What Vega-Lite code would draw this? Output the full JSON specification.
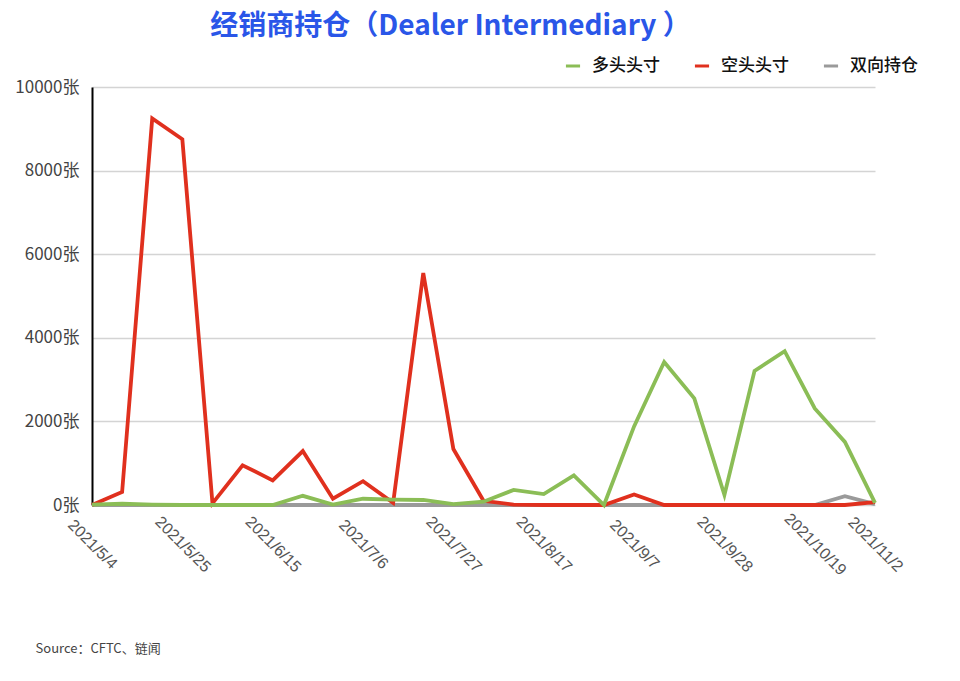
{
  "$schema": "https://vega.github.io/schema/vega-lite/v6.json",
  "autosize": "none",
  "width": 783,
  "height": 418,
  "padding": {"left": 92, "top": 87, "right": 85, "bottom": 176},
  "background": "white",
  "title": {
    "text": "经销商持仓（Dealer Intermediary ）",
    "font": "Noto Sans CJK SC",
    "fontSize": 28,
    "fontWeight": "bold",
    "color": "#2a56e8",
    "anchor": "middle",
    "frame": "group",
    "dx": -33,
    "offset": 16
  },
  "config": {
    "view": {"stroke": null},
    "font": "Noto Sans CJK SC"
  },
  "datasets": {
    "pos": [
      {"date": "2021/5/4", "s": "双向持仓", "v": 0},
      {"date": "2021/5/11", "s": "双向持仓", "v": 0},
      {"date": "2021/5/18", "s": "双向持仓", "v": 0},
      {"date": "2021/5/25", "s": "双向持仓", "v": 0},
      {"date": "2021/6/1", "s": "双向持仓", "v": 0},
      {"date": "2021/6/8", "s": "双向持仓", "v": 0},
      {"date": "2021/6/15", "s": "双向持仓", "v": 0},
      {"date": "2021/6/22", "s": "双向持仓", "v": 0},
      {"date": "2021/6/29", "s": "双向持仓", "v": 0},
      {"date": "2021/7/6", "s": "双向持仓", "v": 0},
      {"date": "2021/7/13", "s": "双向持仓", "v": 0},
      {"date": "2021/7/20", "s": "双向持仓", "v": 0},
      {"date": "2021/7/27", "s": "双向持仓", "v": 0},
      {"date": "2021/8/3", "s": "双向持仓", "v": 0},
      {"date": "2021/8/10", "s": "双向持仓", "v": 0},
      {"date": "2021/8/17", "s": "双向持仓", "v": 0},
      {"date": "2021/8/24", "s": "双向持仓", "v": 0},
      {"date": "2021/8/31", "s": "双向持仓", "v": 0},
      {"date": "2021/9/7", "s": "双向持仓", "v": 0},
      {"date": "2021/9/14", "s": "双向持仓", "v": 0},
      {"date": "2021/9/21", "s": "双向持仓", "v": 0},
      {"date": "2021/9/28", "s": "双向持仓", "v": 0},
      {"date": "2021/10/5", "s": "双向持仓", "v": 0},
      {"date": "2021/10/12", "s": "双向持仓", "v": 0},
      {"date": "2021/10/19", "s": "双向持仓", "v": 0},
      {"date": "2021/10/26", "s": "双向持仓", "v": 210},
      {"date": "2021/11/2", "s": "双向持仓", "v": 20},
      {"date": "2021/5/4", "s": "空头头寸", "v": 0},
      {"date": "2021/5/11", "s": "空头头寸", "v": 310},
      {"date": "2021/5/18", "s": "空头头寸", "v": 9250},
      {"date": "2021/5/25", "s": "空头头寸", "v": 8750},
      {"date": "2021/6/1", "s": "空头头寸", "v": 40},
      {"date": "2021/6/8", "s": "空头头寸", "v": 950},
      {"date": "2021/6/15", "s": "空头头寸", "v": 590},
      {"date": "2021/6/22", "s": "空头头寸", "v": 1290},
      {"date": "2021/6/29", "s": "空头头寸", "v": 150},
      {"date": "2021/7/6", "s": "空头头寸", "v": 570},
      {"date": "2021/7/13", "s": "空头头寸", "v": 50},
      {"date": "2021/7/20", "s": "空头头寸", "v": 5550},
      {"date": "2021/7/27", "s": "空头头寸", "v": 1340},
      {"date": "2021/8/3", "s": "空头头寸", "v": 100},
      {"date": "2021/8/10", "s": "空头头寸", "v": 10},
      {"date": "2021/8/17", "s": "空头头寸", "v": 0},
      {"date": "2021/8/24", "s": "空头头寸", "v": 0},
      {"date": "2021/8/31", "s": "空头头寸", "v": 0},
      {"date": "2021/9/7", "s": "空头头寸", "v": 250},
      {"date": "2021/9/14", "s": "空头头寸", "v": 0},
      {"date": "2021/9/21", "s": "空头头寸", "v": 0},
      {"date": "2021/9/28", "s": "空头头寸", "v": 0},
      {"date": "2021/10/5", "s": "空头头寸", "v": 0},
      {"date": "2021/10/12", "s": "空头头寸", "v": 0},
      {"date": "2021/10/19", "s": "空头头寸", "v": 0},
      {"date": "2021/10/26", "s": "空头头寸", "v": 0},
      {"date": "2021/11/2", "s": "空头头寸", "v": 70},
      {"date": "2021/5/4", "s": "多头头寸", "v": 10},
      {"date": "2021/5/11", "s": "多头头寸", "v": 30},
      {"date": "2021/5/18", "s": "多头头寸", "v": 10},
      {"date": "2021/5/25", "s": "多头头寸", "v": 0},
      {"date": "2021/6/1", "s": "多头头寸", "v": 0},
      {"date": "2021/6/8", "s": "多头头寸", "v": 0},
      {"date": "2021/6/15", "s": "多头头寸", "v": 0},
      {"date": "2021/6/22", "s": "多头头寸", "v": 220},
      {"date": "2021/6/29", "s": "多头头寸", "v": 10},
      {"date": "2021/7/6", "s": "多头头寸", "v": 150},
      {"date": "2021/7/13", "s": "多头头寸", "v": 130},
      {"date": "2021/7/20", "s": "多头头寸", "v": 120},
      {"date": "2021/7/27", "s": "多头头寸", "v": 20},
      {"date": "2021/8/3", "s": "多头头寸", "v": 80},
      {"date": "2021/8/10", "s": "多头头寸", "v": 360},
      {"date": "2021/8/17", "s": "多头头寸", "v": 260},
      {"date": "2021/8/24", "s": "多头头寸", "v": 710},
      {"date": "2021/8/31", "s": "多头头寸", "v": 0},
      {"date": "2021/9/7", "s": "多头头寸", "v": 1880},
      {"date": "2021/9/14", "s": "多头头寸", "v": 3420},
      {"date": "2021/9/21", "s": "多头头寸", "v": 2550},
      {"date": "2021/9/28", "s": "多头头寸", "v": 240},
      {"date": "2021/10/5", "s": "多头头寸", "v": 3210},
      {"date": "2021/10/12", "s": "多头头寸", "v": 3680},
      {"date": "2021/10/19", "s": "多头头寸", "v": 2310},
      {"date": "2021/10/26", "s": "多头头寸", "v": 1510},
      {"date": "2021/11/2", "s": "多头头寸", "v": 50}
    ]
  },
  "data": {"name": "pos"},
  "mark": {"type": "line", "strokeWidth": 3.8, "strokeJoin": "miter", "clip": false},
  "encoding": {
    "x": {
      "field": "date",
      "type": "ordinal",
      "sort": null,
      "scale": {"type": "point", "padding": 0},
      "axis": {
        "values": ["2021/5/4", "2021/5/25", "2021/6/15", "2021/7/6", "2021/7/27", "2021/8/17", "2021/9/7", "2021/9/28", "2021/10/19", "2021/11/2"],
        "domain": false,
        "ticks": false,
        "grid": false,
        "labelAngle": 45,
        "labelAlign": "center",
        "labelBaseline": "middle",
        "labelPadding": 39,
        "labelFontSize": 16,
        "labelColor": "#555555",
        "labelFont": "Liberation Sans",
        "title": "Source：CFTC、链闻",
        "titleFont": "Noto Sans CJK SC",
        "titleFontSize": 13,
        "titleFontWeight": "normal",
        "titleColor": "#444444",
        "titleAnchor": "start",
        "titleAlign": "left",
        "titleX": -57,
        "titleY": 143,
        "titleBaseline": "middle"
      }
    },
    "y": {
      "field": "v",
      "type": "quantitative",
      "scale": {"domain": [0, 10000], "nice": false},
      "axis": {
        "values": [0, 2000, 4000, 6000, 8000, 10000],
        "labelExpr": "datum.value + '张'",
        "domain": true,
        "domainColor": "#000000",
        "domainWidth": 2,
        "ticks": false,
        "grid": true,
        "gridColor": "#d4d4d4",
        "gridWidth": 1.5,
        "labelFontSize": 17,
        "labelColor": "#444444",
        "labelFont": "Noto Sans CJK SC",
        "labelPadding": 13,
        "title": null
      }
    },
    "color": {
      "field": "s",
      "type": "nominal",
      "scale": {
        "domain": ["多头头寸", "空头头寸", "双向持仓"],
        "range": ["#8bbd56", "#e0301e", "#9a9a9a"]
      },
      "legend": {
        "title": null,
        "orient": "none",
        "direction": "horizontal",
        "legendX": 472,
        "legendY": -30,
        "symbolType": "stroke",
        "symbolStrokeWidth": 3,
        "symbolSize": 200,
        "labelFontSize": 17,
        "labelFontWeight": 500,
        "labelColor": "#111111",
        "labelFont": "Noto Sans CJK SC",
        "columnPadding": 28,
        "labelOffset": 10
      }
    }
  }
}
